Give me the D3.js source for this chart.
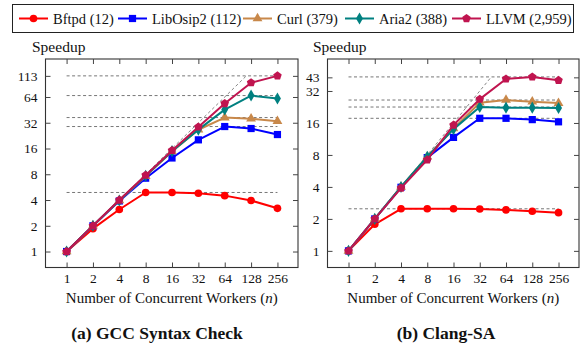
<!DOCTYPE html>
<html>
<head>
<meta charset="utf-8">
<script src="https://cdn.jsdelivr.net/npm/d3@7/dist/d3.min.js"></script>
<style>
  html, body { margin: 0; padding: 0; background: #fff; }
  svg text { font-family: "Liberation Serif", "DejaVu Serif", "Noto Serif", "Times New Roman", serif; }
</style>
</head>
<body>
<svg id="chart" width="580" height="348"></svg>
<script>
// ---------- data ----------
const workers = [1, 2, 4, 8, 16, 32, 64, 128, 256];
const xTickLabels = ["1", "2", "4", "8", "16", "32", "64", "128", "256"];

const seriesNames = ["Bftpd (12)", "LibOsip2 (112)", "Curl (379)", "Aria2 (388)", "LLVM (2,959)"];

// (a) GCC Syntax Check
const gccBftpd    = [1, 1.85, 3.1, 4.9, 4.9, 4.8, 4.5, 3.95, 3.2];
const gccLibOsip2 = [1, 2, 3.9, 7.2, 12.4, 20.2, 28.9, 27.4, 23.3];
const gccCurl     = [1, 2, 3.95, 7.6, 14.8, 26.5, 36.8, 35.7, 33.3];
const gccAria2    = [1, 2, 3.95, 7.7, 14.9, 26.6, 45.6, 66.5, 61.5];
const gccLLVM     = [1, 2, 4, 7.8, 15.2, 28.6, 53.7, 94, 113];
const gccYTicks   = [1, 2, 4, 8, 16, 32, 64, 113];

// (b) Clang-SA
const clangBftpd    = [1, 1.78, 2.49, 2.49, 2.49, 2.48, 2.43, 2.36, 2.29];
const clangLibOsip2 = [1, 2, 3.97, 7.55, 11.7, 17.7, 17.7, 17.2, 16.4];
const clangCurl     = [1, 2, 4, 7.7, 14.2, 24.8, 26.3, 25.4, 24.6];
const clangAria2    = [1, 2, 4, 7.7, 14.0, 22.6, 22.3, 22.3, 22.1];
const clangLLVM     = [1, 2, 3.9, 7.2, 15.3, 26.8, 41.5, 43.4, 40.3];
const clangYTicks   = [1, 2, 4, 8, 16, 32, 43];

const captions = ["(a) GCC Syntax Check", "(b) Clang-SA"];

// ---------- styles ----------
const colors  = ["#ff0000", "#0000ff", "#c8884a", "#008080", "#c0144f"];
const shapes  = ["circle", "square", "triangle", "diamond", "pentagon"];

const svg = d3.select("#chart");

// pentagon symbol type
const symbolPentagon = {
  draw(context, size) {
    const r = Math.sqrt(size / 2.378);
    for (let i = 0; i < 5; i++) {
      const a = -Math.PI / 2 + i * 2 * Math.PI / 5;
      const px = r * Math.cos(a), py = r * Math.sin(a);
      if (i === 0) context.moveTo(px, py); else context.lineTo(px, py);
    }
    context.closePath();
  }
};
const symbolTypes = {
  circle: [d3.symbolCircle, 46],
  square: [d3.symbolSquare, 52],
  triangle: [d3.symbolTriangle, 42],
  diamond: [d3.symbolDiamond, 42],
  pentagon: [symbolPentagon, 48]
};
function symbolPath(shape) {
  const [t, s] = symbolTypes[shape];
  return d3.symbol().type(t).size(s)();
}

// ---------- legend ----------
const legend = svg.append("g");
legend.append("rect")
  .attr("x", 12.5).attr("y", 4.5).attr("width", 561).attr("height", 28)
  .attr("fill", "none").attr("stroke", "#222").attr("stroke-width", 1);

const legendX = [19, 118, 243, 345, 452];
seriesNames.forEach((name, i) => {
  const g = legend.append("g").attr("transform", `translate(${legendX[i]},18.5)`);
  g.append("line").attr("x1", 0).attr("x2", 29).attr("y1", 0).attr("y2", 0)
    .attr("stroke", colors[i]).attr("stroke-width", 2);
  g.append("path").attr("d", symbolPath(shapes[i]))
    .attr("transform", "translate(14.5,0)").attr("fill", colors[i]);
  g.append("text").attr("x", 34).attr("y", 5).attr("font-size", 14.5)
    .attr("fill", "#111").text(name);
});

// ---------- panels ----------
const panels = [
  {
    series: [gccBftpd, gccLibOsip2, gccCurl, gccAria2, gccLLVM],
    yTicks: gccYTicks,
    box: { left: 45.5, right: 298, top: 59, bottom: 267.5 },
    yDomainLog2: [-0.62, 7.475],
    caption: captions[0], captionX: 157,
    ylabelX: 32
  },
  {
    series: [clangBftpd, clangLibOsip2, clangCurl, clangAria2, clangLLVM],
    yTicks: clangYTicks,
    box: { left: 327.5, right: 579, top: 59, bottom: 267.5 },
    yDomainLog2: [-0.52, 6.0],
    caption: captions[1], captionX: 446,
    ylabelX: 313
  }
];

panels.forEach(p => {
  const b = p.box;
  const x = d3.scaleLog().base(2).domain([Math.pow(2, -0.8), Math.pow(2, 8.78)]).range([b.left, b.right]);
  const y = d3.scaleLog().base(2).domain(p.yDomainLog2.map(v => Math.pow(2, v))).range([b.bottom, b.top]);
  const g = svg.append("g");

  // frame
  g.append("rect").attr("x", b.left).attr("y", b.top)
    .attr("width", b.right - b.left).attr("height", b.bottom - b.top)
    .attr("fill", "none").attr("stroke", "#333").attr("stroke-width", 1.1);

  // axes with inward ticks
  const tickLen = 5;
  const xb = g.append("g").attr("transform", `translate(0,${b.bottom})`)
    .call(d3.axisBottom(x).tickValues(workers).tickFormat((d, i) => xTickLabels[i]).tickSize(-tickLen).tickPadding(6));
  const xt = g.append("g").attr("transform", `translate(0,${b.top})`)
    .call(d3.axisTop(x).tickValues(workers).tickFormat("").tickSize(-tickLen));
  const yl = g.append("g").attr("transform", `translate(${b.left},0)`)
    .call(d3.axisLeft(y).tickValues(p.yTicks).tickFormat(d3.format("d")).tickSize(-tickLen).tickPadding(8));
  const yr = g.append("g").attr("transform", `translate(${b.right},0)`)
    .call(d3.axisRight(y).tickValues(p.yTicks).tickFormat("").tickSize(-tickLen));
  [xb, xt, yl, yr].forEach(a => {
    a.select(".domain").remove();
    a.selectAll(".tick line").attr("stroke", "#444").attr("stroke-width", 1);
    a.selectAll("text").attr("font-size", 13.5).attr("fill", "#111");
  });

  // plateau reference lines at each series max
  const x0 = x(workers[0]), x1 = x(workers[workers.length - 1]);
  p.series.forEach(s => {
    const m = d3.max(s);
    g.append("line").attr("x1", x0).attr("x2", x1).attr("y1", y(m)).attr("y2", y(m))
      .attr("stroke", "#777").attr("stroke-width", 1).attr("stroke-dasharray", "3,2.5");
  });
  // ideal linear speedup
  const top = d3.max(p.series.flat());
  g.append("line").attr("x1", x(1)).attr("y1", y(1)).attr("x2", x(top)).attr("y2", y(top))
    .attr("stroke", "#888").attr("stroke-width", 1).attr("stroke-dasharray", "3,2.5");

  // series
  const line = d3.line().x((d, i) => x(workers[i])).y(d => y(d));
  p.series.forEach((s, k) => {
    g.append("path").attr("d", line(s)).attr("fill", "none")
      .attr("stroke", colors[k]).attr("stroke-width", 2).attr("stroke-linejoin", "round");
    g.selectAll(null).data(s).enter().append("path")
      .attr("d", symbolPath(shapes[k]))
      .attr("transform", (d, i) => `translate(${x(workers[i])},${y(d)})`)
      .attr("fill", colors[k]);
  });

  // labels
  g.append("text").attr("x", p.ylabelX).attr("y", 52).attr("font-size", 15.5).attr("fill", "#111").text("Speedup");
  g.append("text").attr("x", (b.left + b.right) / 2 + 0).attr("y", 303).attr("text-anchor", "middle")
    .attr("font-size", 15).attr("fill", "#111")
    .html('Number of Concurrent Workers (<tspan font-style="italic">n</tspan>)');
  g.append("text").attr("x", p.captionX).attr("y", 339).attr("text-anchor", "middle")
    .attr("font-size", 17.5).attr("font-weight", "bold").attr("fill", "#111").text(p.caption);
});
</script>
</body>
</html>
